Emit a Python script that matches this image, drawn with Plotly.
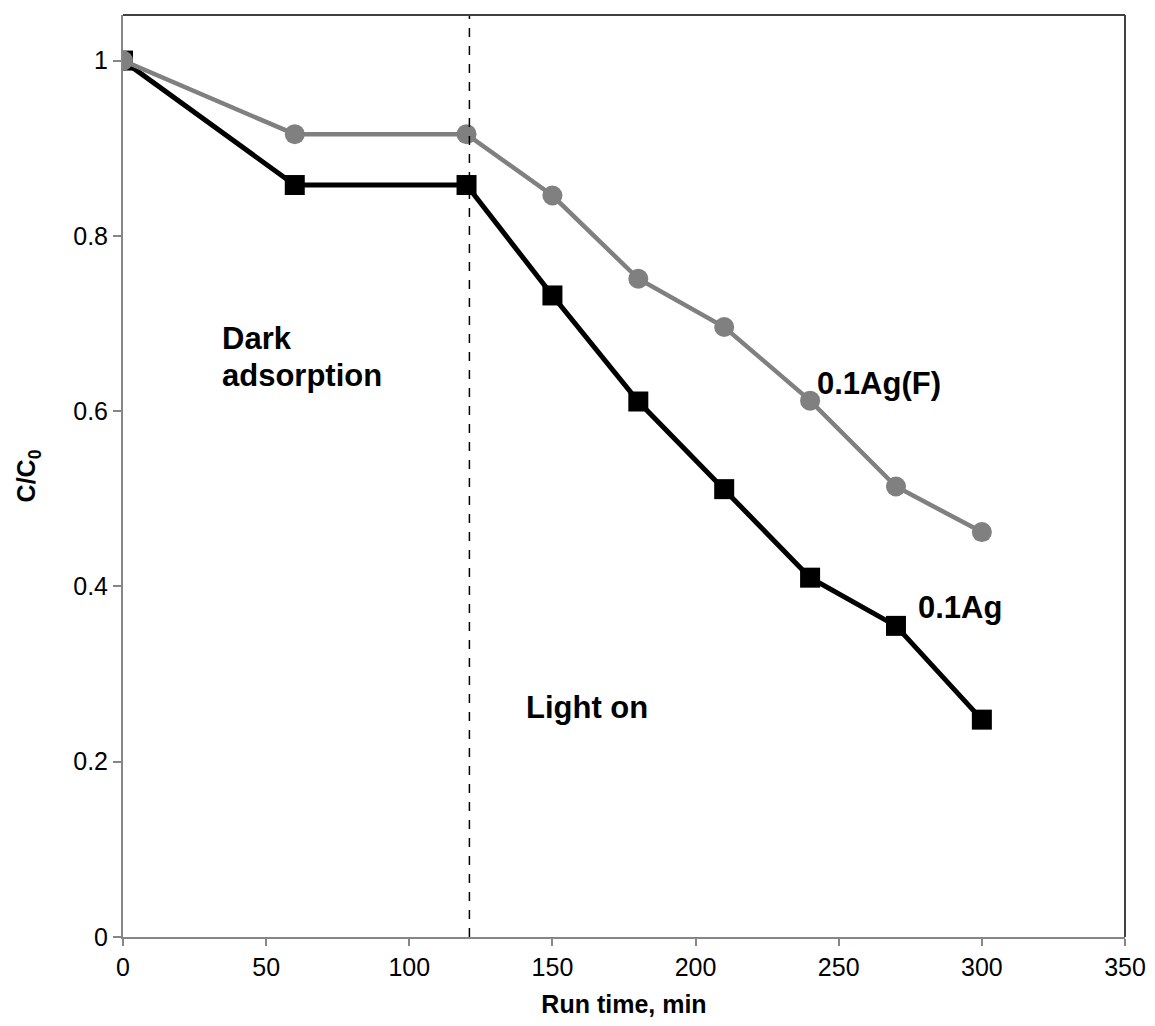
import plotly.graph_objects as go

time_min = [0, 60, 120, 150, 180, 210, 240, 270, 300]
ag_f = [1.0, 0.916, 0.916, 0.846, 0.751, 0.696, 0.612, 0.514, 0.462]
ag = [1.0, 0.858, 0.858, 0.732, 0.611, 0.511, 0.41, 0.355, 0.248]
light_on_time = 121
x_ticks = [0, 50, 100, 150, 200, 250, 300, 350]
y_ticks = [0, 0.2, 0.4, 0.6, 0.8, 1]
y_ticktext = ["0", "0.2", "0.4", "0.6", "0.8", "1"]

fig = go.Figure()
fig.add_trace(go.Scatter(x=time_min, y=ag, mode="lines+markers", name="0.1Ag",
                         line=dict(color="black", width=5),
                         marker=dict(symbol="square", size=20, color="black")))
fig.add_trace(go.Scatter(x=time_min, y=ag_f, mode="lines+markers", name="0.1Ag(F)",
                         line=dict(color="#808080", width=4.5),
                         marker=dict(symbol="circle", size=20, color="#808080")))

fig.add_shape(type="line", x0=light_on_time, x1=light_on_time, y0=0, y1=1, yref="paper",
              line=dict(color="black", width=1.5, dash="dash"))

fig.add_shape(type="line", x0=0, x1=1, y0=1, y1=1, xref="paper", yref="paper",
              line=dict(color="#404040", width=2))
fig.add_shape(type="line", x0=1, x1=1, y0=0, y1=1, xref="paper", yref="paper",
              line=dict(color="#404040", width=2))

afont = dict(family="Liberation Sans, Arial", size=31, color="black")
fig.add_annotation(x=34, y=0.683, text="<b>Dark</b>", showarrow=False,
                   xanchor="left", yanchor="middle", font=afont)
fig.add_annotation(x=34, y=0.641, text="<b>adsorption</b>", showarrow=False,
                   xanchor="left", yanchor="middle", font=afont)
fig.add_annotation(x=140, y=0.262, text="<b>Light on</b>", showarrow=False,
                   xanchor="left", yanchor="middle", font=afont)
fig.add_annotation(x=241.7, y=0.632, text="<b>0.1Ag(F)</b>", showarrow=False,
                   xanchor="left", yanchor="middle", font=afont)
fig.add_annotation(x=276.9, y=0.376, text="<b>0.1Ag</b>", showarrow=False,
                   xanchor="left", yanchor="middle", font=afont)

tfont = dict(family="Liberation Sans, Arial", size=25, color="black")
titlefont = dict(family="Liberation Sans, Arial", size=25, color="black")
fig.update_xaxes(range=[0, 350], tickvals=x_ticks, automargin=False,
                 showgrid=False, zeroline=False, showline=True, linecolor="#868686", linewidth=2,
                 ticks="outside", ticklen=7, tickcolor="#868686", tickwidth=1.5, tickfont=tfont,
                 title=dict(text="<b>Run time, min</b>", font=titlefont, standoff=22))
fig.update_yaxes(range=[0, 1.052], tickvals=y_ticks, ticktext=y_ticktext, automargin=False,
                 showgrid=False, zeroline=False, showline=True, linecolor="#868686", linewidth=2,
                 ticks="outside", ticklen=8, tickcolor="#868686", tickwidth=1.5, tickfont=tfont,
                 title=dict(text="<b>C/C<sub>0</sub></b>", font=titlefont, standoff=30))

fig.update_layout(width=1139, height=1010, margin=dict(l=115, r=22, t=7, b=81),
                  plot_bgcolor="white", paper_bgcolor="white", showlegend=False)

fig.write_html("out.html", config={"displayModeBar": False})
